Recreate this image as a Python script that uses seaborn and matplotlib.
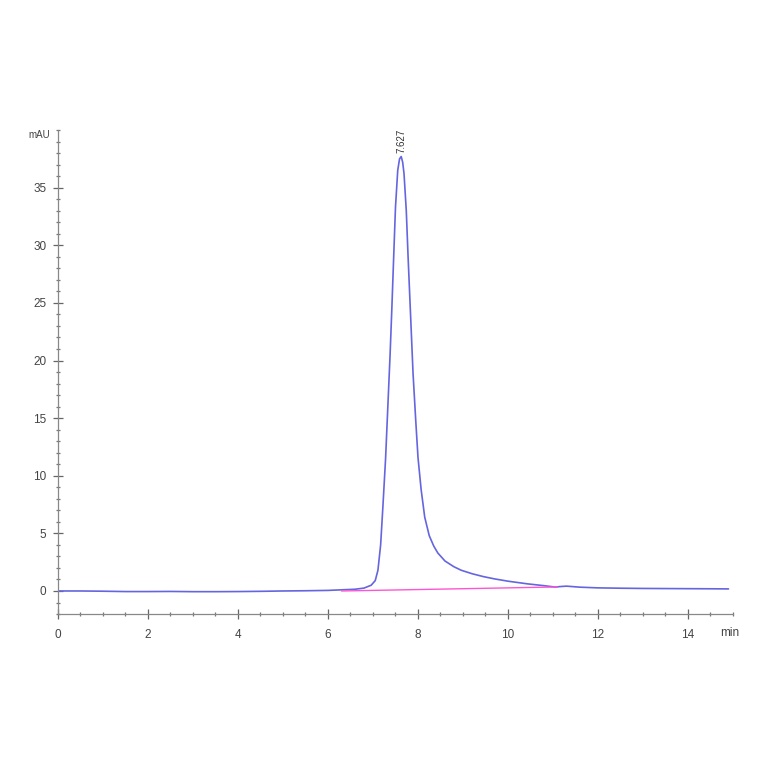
import numpy as np
import pandas as pd
import matplotlib
matplotlib.use("Agg")
import matplotlib.pyplot as plt
from matplotlib.ticker import MultipleLocator
import seaborn as sns

# ── Data ─────────────────────────────────────────────────────────────────────
time_min = [0.0, 0.5, 1.0, 1.5, 2.0, 2.5, 3.0, 3.5, 4.0, 4.5, 5.0, 5.5,
            6.0, 6.3, 6.6, 6.8, 6.96, 7.05, 7.11, 7.17, 7.22, 7.28, 7.33,
            7.38, 7.42, 7.46, 7.50, 7.55, 7.59, 7.627, 7.66, 7.69, 7.74,
            7.78, 7.84, 7.89, 7.95, 8.0, 8.07, 8.15, 8.25, 8.35, 8.44,
            8.6, 8.8, 8.96, 9.2, 9.45, 9.7, 10.0, 10.43, 10.8, 11.05,
            11.15, 11.3, 11.6, 12.0, 12.5, 13.0, 13.5, 14.0, 14.5, 14.9]
signal_mau = [0.0, 0.0, -0.02, -0.05, -0.05, -0.04, -0.06, -0.06, -0.05,
              -0.03, 0.0, 0.02, 0.05, 0.1, 0.15, 0.25, 0.5, 0.9, 1.8, 4.0,
              7.3, 11.5, 16.0, 20.5, 24.6, 29.0, 33.3, 36.5, 37.5, 37.7,
              37.2, 36.2, 33.0, 29.0, 23.5, 18.9, 14.8, 11.6, 8.8, 6.4,
              4.8, 3.9, 3.3, 2.6, 2.1, 1.8, 1.5, 1.25, 1.05, 0.85, 0.62, 0.46,
              0.34, 0.38, 0.42, 0.33, 0.27, 0.24, 0.22, 0.21, 0.2, 0.19, 0.18]

baseline_time = [6.3, 11.1]
baseline_mau = [0.0, 0.35]

peak_rt = 7.627
peak_height = 37.7

trace = pd.DataFrame({"time": time_min, "mAU": signal_mau})
base = pd.DataFrame({"time": baseline_time, "mAU": baseline_mau})

# ── Figure ───────────────────────────────────────────────────────────────────
sns.set_style("white")
plt.rcParams["font.family"] = ["Liberation Sans", "DejaVu Sans"]

fig = plt.figure(figsize=(7.64, 7.64), dpi=100)
ax = fig.add_axes([0.0759, 0.1963, 0.8835, 0.6335])

sns.lineplot(data=trace, x="time", y="mAU", ax=ax, color="#6565e0",
             linewidth=1.2, estimator=None, sort=False)
sns.lineplot(data=base, x="time", y="mAU", ax=ax, color="#ff55d5",
             linewidth=1.0, estimator=None)

ax.text(peak_rt, peak_height + 0.3, f"{peak_rt:.3f}", rotation=90,
        ha="center", va="bottom", fontsize=7, color="#333333")

ax.set_xlim(0, 15)
ax.set_ylim(-2, 40)
ax.xaxis.set_major_locator(MultipleLocator(2))
ax.xaxis.set_minor_locator(MultipleLocator(0.5))
ax.yaxis.set_major_locator(MultipleLocator(5))
ax.yaxis.set_minor_locator(MultipleLocator(1))
ax.set_xticks(np.arange(0, 15, 2))
ax.set_yticks(np.arange(0, 40, 5))

ax.tick_params(axis="both", which="both", bottom=True, left=True,
               top=False, right=False)
ax.tick_params(axis="both", which="major", direction="inout", length=7,
               width=0.9, color="#666666", labelsize=8.5, labelcolor="#444444")
ax.tick_params(axis="both", which="minor", direction="inout", length=3.5,
               width=0.9, color="#777777")
ax.tick_params(axis="x", pad=7)
ax.tick_params(axis="y", pad=5)

for side in ["top", "right"]:
    ax.spines[side].set_visible(False)
for side in ["left", "bottom"]:
    ax.spines[side].set_color("#888888")
    ax.spines[side].set_linewidth(0.9)

ax.set_xlabel("")
ax.set_ylabel("")
ax.text(-0.012, 1.0, "mAU", transform=ax.transAxes, ha="right", va="top",
        fontsize=7, color="#444444")
ax.text(0.995, -0.026, "min", transform=ax.transAxes, ha="center", va="top",
        fontsize=8.5, color="#444444")

fig.savefig("out.png", dpi=100, facecolor="white")
